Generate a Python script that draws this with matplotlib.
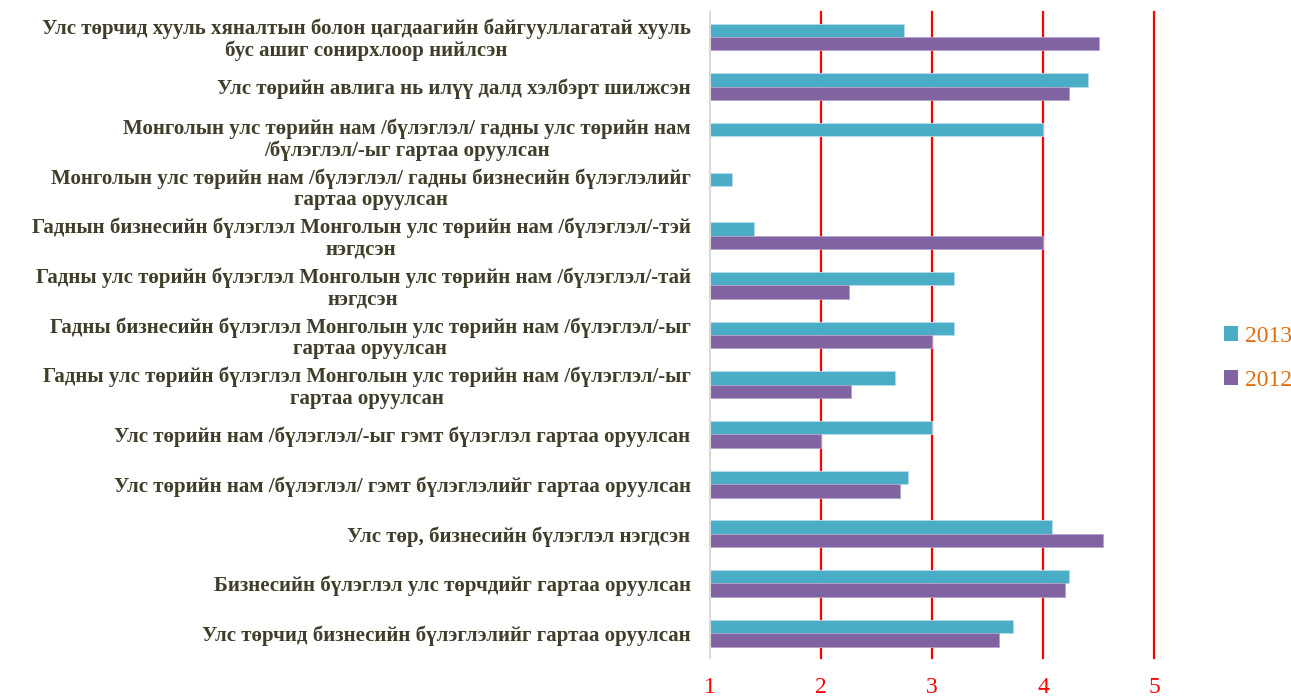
import numpy as np
import matplotlib
matplotlib.use("Agg")
import matplotlib.pyplot as plt
from matplotlib.patches import Patch

categories = [
    "Улс төрчид хууль хяналтын болон цагдаагийн байгууллагатай хууль\nбус ашиг сонирхлоор нийлсэн",
    "Улс төрийн авлига нь илүү далд хэлбэрт шилжсэн",
    "Монголын улс төрийн нам /бүлэглэл/ гадны улс төрийн нам\n/бүлэглэл/-ыг гартаа оруулсан",
    "Монголын улс төрийн нам /бүлэглэл/ гадны бизнесийн бүлэглэлийг\nгартаа оруулсан",
    "Гаднын бизнесийн бүлэглэл Монголын улс төрийн нам /бүлэглэл/-тэй\nнэгдсэн",
    "Гадны улс төрийн бүлэглэл Монголын улс төрийн нам /бүлэглэл/-тай\nнэгдсэн",
    "Гадны бизнесийн бүлэглэл Монголын улс төрийн нам /бүлэглэл/-ыг\nгартаа оруулсан",
    "Гадны улс төрийн бүлэглэл Монголын улс төрийн нам /бүлэглэл/-ыг\nгартаа оруулсан",
    "Улс төрийн нам /бүлэглэл/-ыг гэмт бүлэглэл гартаа оруулсан",
    "Улс төрийн нам /бүлэглэл/ гэмт бүлэглэлийг гартаа оруулсан",
    "Улс төр, бизнесийн бүлэглэл нэгдсэн",
    "Бизнесийн бүлэглэл улс төрчдийг гартаа оруулсан",
    "Улс төрчид бизнесийн бүлэглэлийг гартаа оруулсан",
]
values_2013 = [2.75, 4.40, 4.00, 1.20, 1.40, 3.20, 3.20, 2.67, 3.00, 2.78, 4.08, 4.23, 3.73]
values_2012 = [4.50, 4.23, np.nan, np.nan, 4.00, 2.25, 3.00, 2.27, 2.00, 2.71, 4.54, 4.20, 3.60]
series_names = ["2013", "2012"]
xticks = [1, 2, 3, 4, 5]

c2013 = "#4BACC6"
c2012 = "#8064A2"
label_color = "#403d2a"
orange = "#E46C0A"

fig = plt.figure(figsize=(12.91, 6.96), dpi=100)
ax = fig.add_axes([0.550, 0.0546, 0.344, 0.928])

y = np.arange(len(categories))
h = 0.27
ax.barh(y - h / 2, values_2013, height=h, color=c2013, edgecolor="#b7dde8", linewidth=0.6, zorder=3)
ax.barh(y + h / 2, values_2012, height=h, color=c2012, edgecolor="#b3a2c7", linewidth=0.6, zorder=3)

ax.set_xlim(1, 5)
ax.set_ylim(len(categories) - 0.5, -0.5)
ax.set_xticks(xticks)
ax.set_xticklabels([str(t) for t in xticks], family="Liberation Serif", fontsize=17, color="#FF0000")
ax.tick_params(axis="x", length=0, pad=14)
ax.xaxis.grid(True, color="#FF0000", linewidth=1.6, zorder=1)
gridlines = ax.get_xgridlines()
for gl in gridlines:
    gl.set_clip_on(False)
gridlines[0].set_visible(False)
ax.set_yticks(y)
ax.set_yticklabels(categories, family="Liberation Serif", fontweight="bold", fontsize=15,
                   color=label_color, multialignment="center", linespacing=1.08)
ax.tick_params(axis="y", length=0, pad=14)

for s in ["top", "right", "bottom"]:
    ax.spines[s].set_visible(False)
ax.spines["left"].set_color("#d9d9d9")
ax.spines["left"].set_linewidth(1.5)
ax.spines["left"].set_zorder(4)

handles = [Patch(facecolor=c2013, edgecolor="none"), Patch(facecolor=c2012, edgecolor="none")]
leg = fig.legend(handles, series_names, loc="center left", bbox_to_anchor=(0.948, 0.485),
                 frameon=False, prop={"family": "Liberation Serif", "size": 17},
                 handlelength=0.6, handleheight=0.6, handletextpad=0.3, labelspacing=0.95,
                 borderaxespad=0, borderpad=0)
for t in leg.get_texts():
    t.set_color(orange)

fig.savefig("out.png", dpi=100)
